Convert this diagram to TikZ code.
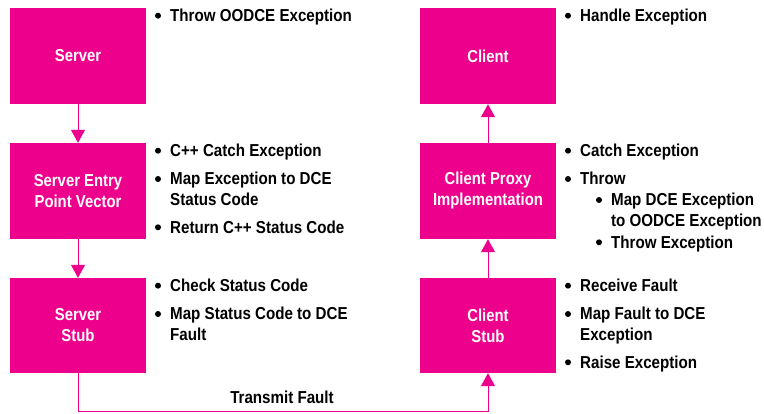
\documentclass[tikz,border=0pt]{standalone}
\usepackage{fontspec}
\newfontfamily\labfont{Liberation Sans}[FakeStretch=0.86]
\newfontfamily\itemfont{Liberation Sans}[FakeStretch=0.875]
\usetikzlibrary{arrows.meta}
\definecolor{hpmag}{RGB}{236,0,140}

% bullet point: name, x of text, baseline y, text
\newcommand\bitem[4]{%
  \fill (#2-12,#3-6) circle (3pt);
  \node[itemtext] (#1) at (#2,#3) {#4};}
% two-line bullet point: name, x of text, first baseline y, line 1, line 2
\newcommand\bitemtwo[5]{%
  \fill (#2-12,#3-6) circle (3pt);
  \node[itemtext] (#1) at (#2,#3+20.5) {#4\\#5};}

\begin{document}
\begin{tikzpicture}[x=1pt,y=-1pt,
  box/.style={fill=hpmag, minimum width=136pt, minimum height=96pt, inner sep=0pt,
    text=white, align=center, font=\labfont\bfseries\fontsize{17.3}{21}\selectfont},
  itemtext/.style={anchor=base west, inner sep=0pt, align=left, text=black,
    font=\itemfont\bfseries\fontsize{17.3}{20.5}\selectfont},
  arr/.style={draw=hpmag, line width=1pt, -{Triangle[width=14pt,length=13pt,fill=hpmag]}}]
\useasboundingbox (0,0) rectangle (764,414);

% server side
\node[box] (server) at (78,56) {Server};
\node[box] (sepv) at (78,191) {Server Entry\\Point Vector};
\node[box, minimum height=95pt] (sstub) at (78,325.5) {Server\\Stub};

% client side
\node[box] (client) at (488,56) {Client};
\node[box] (cproxy) at (488,191) {Client Proxy\\Implementation};
\node[box, minimum height=95pt] (cstub) at (488,325.5) {Client\\Stub};

% connectors
\coordinate (wire) at (0,411.5);
\draw[arr] (server.south) -- (sepv.north);
\draw[arr] (sepv.south) -- (sstub.north);
\draw[arr] (sstub.south) -- (sstub.south |- wire) -- (cstub.south |- wire) -- (cstub.south);
\draw[arr] (cstub.north) -- (cproxy.south);
\draw[arr] (cproxy.north) -- (client.south);
\node[itemtext, anchor=base] (transmit) at (282,403.3) {Transmit Fault};

% server side steps
\bitem{s1}{170}{21.7}{Throw OODCE Exception}
\bitem{e1}{170}{156.7}{C++ Catch Exception}
\bitemtwo{e2}{170}{185}{Map Exception to DCE}{Status Code}
\bitem{e3}{170}{233.3}{Return C++ Status Code}
\bitem{t1}{170}{291.7}{Check Status Code}
\bitemtwo{t2}{170}{320}{Map Status Code to DCE}{Fault}

% client side steps
\bitem{c1}{580}{21.7}{Handle Exception}
\bitem{p1}{580}{156.7}{Catch Exception}
\bitem{p2}{580}{185}{Throw}
\bitemtwo{p3}{611}{206}{Map DCE Exception}{to OODCE Exception}
\bitem{p4}{611}{248.3}{Throw Exception}
\bitem{r1}{580}{291.7}{Receive Fault}
\bitemtwo{r2}{580}{320}{Map Fault to DCE}{Exception}
\bitem{r3}{580}{368.3}{Raise Exception}
\end{tikzpicture}
\end{document}
